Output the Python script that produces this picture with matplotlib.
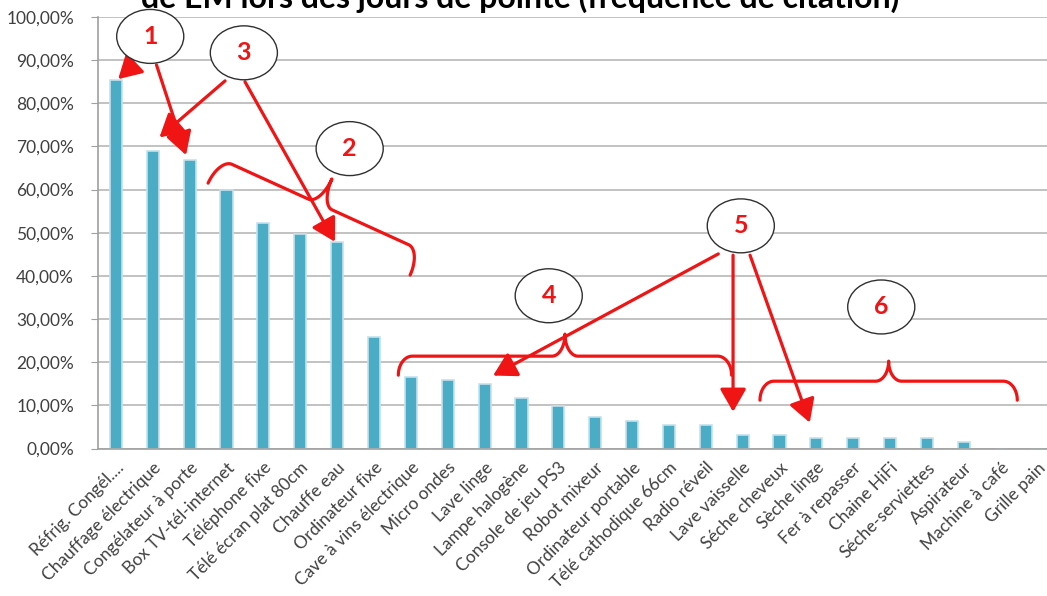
import numpy as np
import matplotlib.pyplot as plt
from matplotlib.patches import Ellipse

# data
categories = ['Réfrig. Congél....', 'Chauffage électrique', 'Congélateur à porte',
              'Box TV-tél-internet', 'Téléphone fixe', 'Télé écran plat 80cm', 'Chauffe eau',
              'Ordinateur fixe', 'Cave à vins électrique', 'Micro ondes', 'Lave linge',
              'Lampe halogène', 'Console de jeu PS3', 'Robot mixeur', 'Ordinateur portable',
              'Télé cathodique 66cm', 'Radio réveil', 'Lave vaisselle', 'Séche cheveux',
              'Sèche linge', 'Fer à repasser', 'Chaine HiFi', 'Séche-serviettes', 'Aspirateur',
              'Machine à café', 'Grille pain']
frequency = [85.4, 69.0, 66.8, 60.0, 52.3, 49.8, 47.8, 25.8, 16.6, 15.9, 14.9, 11.6, 9.8,
             7.3, 6.3, 5.4, 5.4, 3.2, 3.2, 2.4, 2.4, 2.4, 2.4, 1.5, 0.0, 0.0]
y_ticks = [0, 10, 20, 30, 40, 50, 60, 70, 80, 90, 100]
title = "de EM lors des jours de pointe (fréquence de citation)"

# hand drawn annotations (category index, percent)
circle_labels = ['1', '2', '3', '4', '5', '6']
circle_x = [0.93, 6.34, 3.47, 11.74, 16.95, 20.76]
circle_y = [95.5, 69.5, 91.7, 35.4, 51.6, 32.8]
arrows = [(0.47, 88.9, 0.06, 85.6),
          (1.10, 88.9, 1.90, 68.0),
          (2.96, 85.2, 1.18, 72.1),
          (3.50, 85.0, 5.94, 47.9),
          (16.34, 45.1, 10.23, 16.9),
          (16.74, 44.8, 16.74, 8.5),
          (17.20, 44.8, 18.82, 6.0)]
# x0, y0, x1, y1, h1 (px), h2 (px)
braces = [(2.50, 61.5, 7.98, 40.2, 27, 28),
          (7.66, 17.0, 16.70, 17.0, 19, 22),
          (17.47, 11.2, 24.45, 11.2, 19, 20)]

RED = '#f01414'
BAR = '#4bacc6'
plt.rcParams['font.family'] = ['Lato', 'DejaVu Sans']

fig = plt.figure(figsize=(10.47, 5.96), dpi=100)
ax = fig.add_axes([97.5 / 1047, 147.5 / 596, 958.5 / 1047, 431.5 / 596])

x = np.arange(len(categories))
ax.bar(x, frequency, width=0.33, color=BAR, edgecolor='#c3e2ec', linewidth=1.2, zorder=2)
ax.set_xlim(-0.5, len(categories) - 0.5)
ax.set_ylim(0, 100)
ax.set_yticks(y_ticks)
ax.set_yticklabels([f"{v:.2f}%".replace('.', ',') for v in y_ticks], fontsize=12.5, color='#404040')
ax.set_xticks(x)
ax.set_xticklabels(categories, rotation=45, ha='right', rotation_mode='anchor',
                   fontsize=12.5, color='#404040')
ax.tick_params(axis='x', length=0, pad=8)
ax.tick_params(axis='y', length=5, color='#a0a0a0', pad=12)
ax.yaxis.grid(True, color='#b8b8b8', lw=1.2)
ax.set_axisbelow(True)
for s in ['top', 'right']:
    ax.spines[s].set_visible(False)
for s in ['left', 'bottom']:
    ax.spines[s].set_color('#a0a0a0')
    ax.spines[s].set_linewidth(1.2)

# title is cut by the top edge, as in the source picture
fig.text(0.497, 1 - 8 / 596, title, ha='center', va='baseline', fontsize=23,
         fontweight='bold', color='black')


def brace(ax, p0, p1, h1, h2, r=14, r2=13):
    d0 = ax.transData.transform(p0)
    d1 = ax.transData.transform(p1)
    vec = d1 - d0
    L = np.hypot(*vec)
    u = vec / L
    v = np.array([-u[1], u[0]])
    t = np.linspace(0, np.pi / 2, 25)
    lu = np.concatenate([r - r * np.cos(t), L / 2 - r2 + r2 * np.sin(t)])
    lv = np.concatenate([h1 * np.sin(t), h1 + h2 - h2 * np.cos(t)])
    uu = np.concatenate([lu, L - lu[::-1]])
    vv = np.concatenate([lv, lv[::-1]])
    pts = d0 + np.outer(uu, u) + np.outer(vv, v)
    data = ax.transData.inverted().transform(pts)
    ax.plot(data[:, 0], data[:, 1], color=RED, lw=2.3, solid_capstyle='round', zorder=4,
            clip_on=False)


for b in braces:
    brace(ax, (b[0], b[1]), (b[2], b[3]), b[4], b[5])

for x0, y0, x1, y1 in arrows:
    ax.annotate('', xy=(x1, y1), xytext=(x0, y0),
                arrowprops=dict(arrowstyle='-|>,head_length=0.7,head_width=0.4', color=RED,
                                lw=2.3, shrinkA=0, shrinkB=0, mutation_scale=20), zorder=4)

for lab, cx, cy in zip(circle_labels, circle_x, circle_y):
    ax.add_patch(Ellipse((cx, cy), width=1.82, height=12.5, facecolor='white',
                         edgecolor='#303030', lw=1.0, zorder=5, clip_on=False))
    ax.text(cx, cy, lab, ha='center', va='center', fontsize=18, fontweight='bold',
            color=RED, zorder=6)

fig.savefig('out.png', dpi=100)
